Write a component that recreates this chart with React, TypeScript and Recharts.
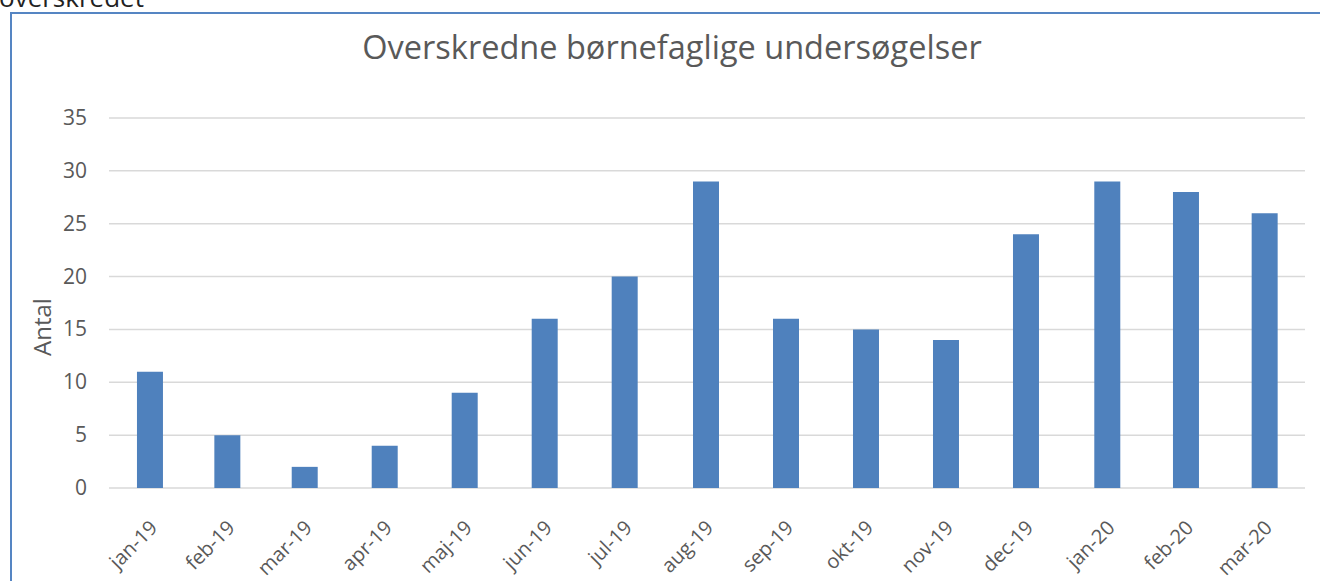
import React from "react"
import { Bar, BarChart, CartesianGrid, XAxis, YAxis } from "recharts"

const months = [
  "jan-19", "feb-19", "mar-19", "apr-19", "maj-19", "jun-19", "jul-19", "aug-19",
  "sep-19", "okt-19", "nov-19", "dec-19", "jan-20", "feb-20", "mar-20",
]
const monthDays = [31, 28, 31, 30, 31, 30, 31, 31, 30, 31, 30, 31, 31, 29, 31]
const antal = [11, 5, 2, 4, 9, 16, 20, 29, 16, 15, 14, 24, 29, 28, 26]
const yTicks = [0, 5, 10, 15, 20, 25, 30, 35]

// date axis: each month gets its own width in days, like excel does
const starts: number[] = []
monthDays.reduce((acc, d) => {
  starts.push(acc)
  return acc + d
}, 0)
const totalDays = monthDays.reduce((a, b) => a + b, 0)
const edges = [...starts, totalDays]

const data = months.map((m, i) => ({
  month: m,
  mid: starts[i] + monthDays[i] / 2,
  antal: antal[i],
}))
const mids = data.map((d) => d.mid)

const font = "'Open Sans', 'Noto Sans', sans-serif"
const grey = "#595959"

function MonthTick(props: any) {
  const { x, y, payload } = props
  const i = mids.indexOf(payload.value)
  return (
    <g transform={`translate(${x + 9},${y + 33})`}>
      <text
        transform="rotate(-45)"
        textAnchor="end"
        fill={grey}
        fontSize={20}
        fontFamily={font}
      >
        {months[i]}
      </text>
    </g>
  )
}

function ValueTick(props: any) {
  const { y, payload } = props
  return (
    <text x={87} y={y + 7} textAnchor="end" fill={grey} fontSize={21} fontFamily={font}>
      {payload.value}
    </text>
  )
}

export default function App() {
  return (
    <div style={{ position: "absolute", left: 0, top: 0, width: 1320, height: 581, overflow: "hidden", background: "#fff" }}>
      <div
        style={{
          position: "absolute",
          left: -1,
          top: -21,
          fontFamily: font,
          fontSize: 26,
          color: "#222",
          whiteSpace: "nowrap",
        }}
      >
        overskredet
      </div>
      <div
        style={{
          position: "absolute",
          left: 10,
          top: 12,
          width: 1320,
          height: 600,
          border: "2px solid #5585c3",
          boxSizing: "border-box",
        }}
      />
      <div
        style={{
          position: "absolute",
          left: 0,
          top: 24,
          width: 1344,
          textAlign: "center",
          fontFamily: font,
          fontSize: 32.5,
          color: grey,
          whiteSpace: "nowrap",
        }}
      >
        Overskredne børnefaglige undersøgelser
      </div>
      <div style={{ position: "absolute", left: 0, top: 0 }}>
        <BarChart
          width={1320}
          height={581}
          data={data}
          margin={{ top: 118, right: 15, bottom: 0, left: 0 }}
        >
          <CartesianGrid vertical={false} stroke="#d9d9d9" strokeWidth={1.5} xAxisId="edge" />
          <XAxis
            xAxisId="edge"
            type="number"
            dataKey="mid"
            domain={[0, totalDays]}
            ticks={edges}
            tick={false}
            height={0}
            stroke="#d9d9d9"
            strokeWidth={1.5}
            tickSize={7}
            interval={0}
          />
          <XAxis
            xAxisId="lbl"
            type="number"
            dataKey="mid"
            domain={[0, totalDays]}
            ticks={mids}
            interval={0}
            axisLine={false}
            tickLine={false}
            tick={<MonthTick />}
            height={93}
          />
          <YAxis
            domain={[0, 35]}
            ticks={yTicks}
            interval={0}
            width={109}
            axisLine={false}
            tickLine={false}
            tick={<ValueTick />}
            label={{
              value: "Antal",
              angle: -90,
              position: "insideLeft",
              offset: 42,
              dy: 53,
              fill: grey,
              fontSize: 24,
              fontFamily: font,
            }}
          />
          <Bar dataKey="antal" xAxisId="lbl" fill="#4f81bd" barSize={26} isAnimationActive={false} />
        </BarChart>
      </div>
    </div>
  )
}
